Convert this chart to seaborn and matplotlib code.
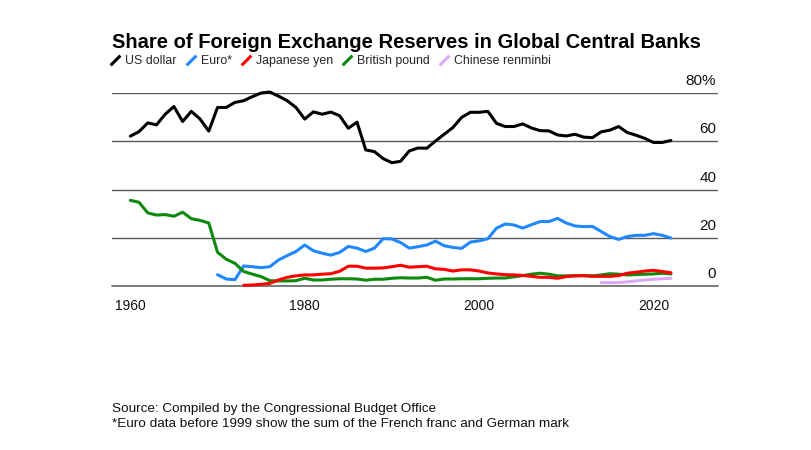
import numpy as np
import pandas as pd
import matplotlib
matplotlib.use('Agg')
import matplotlib.pyplot as plt
from matplotlib.lines import Line2D
from matplotlib.path import Path
import matplotlib.transforms as mtransforms
import seaborn as sns

# data (share of reserves, %)
usd_years = list(range(1960, 2023))
usd = [62.1, 64.0, 67.6, 66.8, 71.2, 74.4, 68.2, 72.4, 69.2, 64.2,
       74.0, 74.0, 76.1, 76.8, 78.5, 80.0, 80.4, 78.7, 76.8, 74.0,
       69.2, 72.2, 71.2, 72.1, 70.6, 65.4, 67.9, 56.4, 55.7, 52.8,
       51.1, 51.7, 56.0, 57.2, 57.1, 60.1, 62.9, 65.7, 69.9, 72.0,
       72.0, 72.4, 67.4, 66.1, 66.1, 67.2, 65.5, 64.4, 64.3, 62.6,
       62.2, 62.9, 61.7, 61.5, 63.9, 64.6, 66.1, 63.6, 62.5, 61.2,
       59.5, 59.5, 60.3]

eur_years = list(range(1970, 2023))
eur = [4.7, 2.9, 2.6, 8.3, 8.0, 7.6, 8.0, 10.8, 12.6, 14.3,
       17.0, 14.6, 13.6, 12.8, 13.9, 16.4, 15.7, 14.3, 15.7, 19.6,
       19.5, 18.0, 15.7, 16.3, 17.0, 18.6, 16.7, 16.0, 15.6, 18.2,
       18.7, 19.6, 24.0, 25.7, 25.3, 24.0, 25.4, 26.7, 26.7, 28.0,
       26.1, 24.9, 24.6, 24.7, 22.6, 20.5, 19.3, 20.5, 21.0, 21.0,
       21.7, 21.0, 19.9]

jpy_years = list(range(1973, 2023))
jpy = [0.3, 0.4, 0.7, 1.1, 2.5, 3.6, 4.2, 4.6, 4.6, 4.9,
       5.1, 6.1, 8.2, 8.2, 7.4, 7.4, 7.5, 8.0, 8.6, 7.8,
       8.0, 8.2, 7.1, 6.9, 6.2, 6.7, 6.7, 6.2, 5.4, 5.0,
       4.7, 4.6, 4.4, 4.0, 3.6, 3.6, 3.2, 3.9, 4.2, 4.3,
       4.0, 4.0, 4.0, 4.3, 5.3, 5.7, 6.2, 6.5, 6.0, 5.5]

gbp_years = list(range(1960, 2023))
gbp = [35.5, 34.7, 30.3, 29.4, 29.6, 28.9, 30.6, 27.9, 27.2, 26.1,
       14.0, 11.1, 9.4, 6.0, 4.9, 3.9, 2.2, 2.1, 2.1, 2.2,
       3.2, 2.5, 2.5, 2.8, 3.0, 3.0, 2.9, 2.4, 2.8, 2.8,
       3.2, 3.4, 3.3, 3.3, 3.6, 2.4, 2.9, 2.9, 3.0, 3.0,
       3.0, 3.2, 3.3, 3.3, 3.8, 4.3, 4.9, 5.3, 4.9, 4.2,
       4.2, 4.3, 4.3, 4.2, 4.6, 5.1, 4.9, 4.6, 4.7, 4.9,
       5.0, 5.3, 5.0]

cny_years = list(range(2014, 2023))
cny = [1.4, 1.4, 1.4, 1.7, 2.1, 2.5, 2.8, 3.0, 3.2]

names = ['US dollar', 'Euro*', 'Japanese yen', 'British pound', 'Chinese renminbi']
colors = ['#000000', '#1f88ff', '#ff0000', '#0d8a0d', '#dda8f5']
yticks = [0, 20, 40, 60, 80]
ytick_labels = ['0', '20', '40', '60', '80%']
xticks = [1960, 1980, 2000, 2020]

parts = []
for nm, yrs, vals in zip(names, [usd_years, eur_years, jpy_years, gbp_years, cny_years],
                         [usd, eur, jpy, gbp, cny]):
    parts.append(pd.DataFrame({'year': yrs, 'share': vals, 'currency': nm}))
df = pd.concat(parts, ignore_index=True)

sns.set_theme(style='white')
plt.rcParams['font.family'] = ['Liberation Sans', 'DejaVu Sans']

W, H = 811, 450
fig = plt.figure(figsize=(W / 100, H / 100), dpi=100)
ax = fig.add_axes([112 / W, 1 - 286 / H, (718 - 112) / W, (286 - 93) / H])

# draw order: renminbi first so the others sit on top
order = ['Chinese renminbi', 'US dollar', 'Euro*', 'British pound', 'Japanese yen']
pal = dict(zip(names, colors))
for nm in order:
    sns.lineplot(data=df[df.currency == nm], x='year', y='share', color=pal[nm],
                 linewidth=2.2, ax=ax, legend=False, zorder=3)
for ln in ax.lines:
    ln.set_clip_on(False)
    ln.set_solid_joinstyle('round')

ax.set_xlim(1957.9, 2027.4)
ax.set_ylim(0, 80)
ax.set_xlabel('')
ax.set_ylabel('')
for s in ax.spines.values():
    s.set_visible(False)
ax.set_yticks(yticks)
ax.set_yticklabels([])
ax.tick_params(axis='y', length=0)
ax.yaxis.grid(True, color='#5a5a5a', linewidth=1.0)
ax.set_axisbelow(True)
ax.axhline(0, color='#666666', linewidth=1.2, clip_on=False, zorder=1)
ax.set_xticks(xticks)
ax.set_xticklabels([str(x) for x in xticks], fontsize=10, color='#111111')
ax.tick_params(axis='x', length=5, width=1, color='#666666', pad=4, direction='out')

# right side value labels above the gridlines
trans = mtransforms.blended_transform_factory(ax.transAxes, ax.transData)
shift = mtransforms.ScaledTranslation(0, 5 / 100, fig.dpi_scale_trans)
for v, lab in zip(yticks, ytick_labels):
    ax.text(0.997, v, lab, transform=trans + shift, ha='right', va='bottom', fontsize=11,
            color='#111111')

fig.text(112 / W, 1 - 42 / H, 'Share of Foreign Exchange Reserves in Global Central Banks',
         fontsize=14.5, fontweight='bold', ha='left', va='center', color='#000000')

slash = Path([(-1, -1), (1, 1)], [Path.MOVETO, Path.LINETO])
handles = [Line2D([], [], color=c, marker=slash, linestyle='None', markersize=7,
                  markeredgewidth=2.2) for c in colors]
fig.legend(handles, names, loc='center left', bbox_to_anchor=(111 / W, 1 - 61 / H),
           ncol=5, frameon=False, fontsize=8.9, handlelength=0.7, handletextpad=0.45,
           columnspacing=0.8, borderaxespad=0, borderpad=0)

fig.text(112 / W, 1 - 409 / H, 'Source: Compiled by the Congressional Budget Office',
         fontsize=9.7, ha='left', va='center', color='#111111')
fig.text(112 / W, 1 - 424 / H, '*Euro data before 1999 show the sum of the French franc and German mark',
         fontsize=9.7, ha='left', va='center', color='#111111')

fig.savefig('out.png', dpi=100, facecolor='white')
